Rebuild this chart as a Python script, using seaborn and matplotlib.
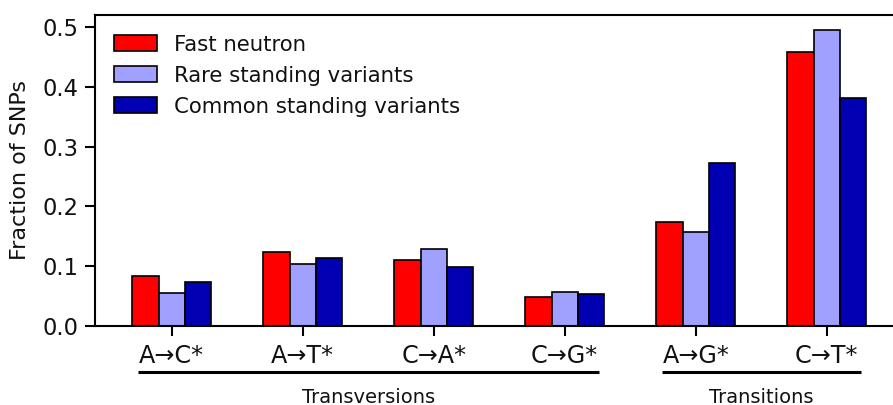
import matplotlib
matplotlib.use("Agg")
import matplotlib.pyplot as plt
import matplotlib.transforms as mtransforms
import seaborn as sns
import pandas as pd

# ---- data ----
categories = ["A→C*", "A→T*", "C→A*", "C→G*", "A→G*", "C→T*"]
series_names = ["Fast neutron", "Rare standing variants", "Common standing variants"]
fast_neutron = [0.083, 0.124, 0.111, 0.048, 0.174, 0.458]
rare_standing = [0.055, 0.103, 0.128, 0.057, 0.158, 0.495]
common_standing = [0.074, 0.114, 0.098, 0.054, 0.273, 0.382]
colors = ["#ff0000", "#a0a0ff", "#0000b2"]
groups = [("Transversions", 0, 3), ("Transitions", 4, 5)]
yticks = [0.0, 0.1, 0.2, 0.3, 0.4, 0.5]

rows = []
for name, vals in zip(series_names, [fast_neutron, rare_standing, common_standing]):
    for c, v in zip(categories, vals):
        rows.append({"category": c, "series": name, "value": v})
df = pd.DataFrame(rows)

sns.set_style("ticks")
plt.rcParams["font.family"] = ["DejaVu Sans"]
plt.rcParams["text.color"] = "#111111"
plt.rcParams["axes.labelcolor"] = "#111111"
plt.rcParams["xtick.color"] = "black"
plt.rcParams["ytick.color"] = "black"
plt.rcParams["xtick.labelcolor"] = "#111111"
plt.rcParams["ytick.labelcolor"] = "#111111"

W, H = 893, 405
fig = plt.figure(figsize=(W / 100, H / 100), dpi=100)
ax = fig.add_axes([95 / W, (H - 326) / H, 798 / W, 311 / H])

sns.barplot(data=df, x="category", y="value", hue="series", order=categories,
            hue_order=series_names, palette=colors, width=0.6, gap=0,
            edgecolor="black", linewidth=1.2, saturation=1, ax=ax, legend=True)

ax.set_xlim(-0.585, 5.506)
ax.set_ylim(0, 0.52)
ax.set_yticks(yticks)
ax.set_yticklabels([f"{t:.1f}" for t in yticks])
ax.set_xlabel("")
ax.set_ylabel("Fraction of SNPs", fontsize=16, labelpad=9)

for s in ["left", "bottom", "top"]:
    ax.spines[s].set_visible(True)
    ax.spines[s].set_linewidth(1.5)
    ax.spines[s].set_color("black")
ax.spines["right"].set_visible(False)

ax.tick_params(axis="y", labelsize=16.3, length=7.2, width=1.5, pad=5.0, direction="out")
ax.tick_params(axis="x", labelsize=17.2, length=7.2, width=1.5, pad=5.5, direction="out")

handles, labels = ax.get_legend_handles_labels()
ax.legend(handles, labels, loc="upper left", bbox_to_anchor=(0.0238, 0.937),
          frameon=False, fontsize=15.3, handlelength=2.02, handleheight=0.75,
          handletextpad=0.8, labelspacing=0.52, borderpad=0, borderaxespad=0)

trans = mtransforms.blended_transform_factory(ax.transData, ax.transAxes)
for label, i0, i1 in groups:
    ax.plot([i0 - 0.26, i1 + 0.26], [-0.149, -0.149], color="black", lw=2.2,
            transform=trans, clip_on=False, solid_capstyle="butt")
    ax.text((i0 + i1) / 2, -0.2466, label, transform=trans, ha="center",
            va="baseline", fontsize=14)

fig.savefig("out.png", dpi=100)
